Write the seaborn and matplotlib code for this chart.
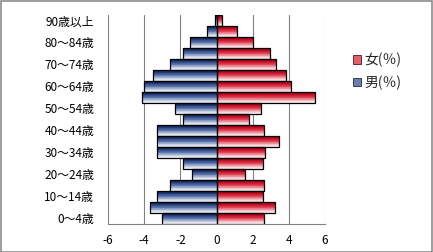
import numpy as np
import pandas as pd
import matplotlib
matplotlib.use("Agg")
import matplotlib.pyplot as plt
from matplotlib.colors import LinearSegmentedColormap
from matplotlib.patches import Rectangle, Patch
import seaborn as sns

# ---- data (top to bottom) ----
age_groups = ["90歳以上", "85～89歳", "80～84歳", "75～79歳", "70～74歳", "65～69歳",
              "60～64歳", "55～59歳", "50～54歳", "45～49歳", "40～44歳", "35～39歳",
              "30～34歳", "25～29歳", "20～24歳", "15～19歳", "10～14歳", "5～9歳", "0～4歳"]
female_pct = [0.33, 1.11, 2.0, 2.96, 3.3, 3.85, 4.11, 5.46, 2.44, 1.82, 2.6, 3.44,
              2.67, 2.56, 1.56, 2.61, 2.56, 3.22, 2.61]
male_pct = [-0.1, -0.55, -1.44, -1.85, -2.55, -3.5, -4.0, -4.12, -2.29, -1.88, -3.28, -3.28,
            -3.28, -1.88, -1.33, -2.55, -3.28, -3.67, -3.04]
series_names = ["女(％)", "男(％)"]
x_ticks = [-6, -4, -2, 0, 2, 4, 6]

sns.set_theme(style="white")
plt.rcParams["font.family"] = ["Noto Sans CJK JP", "DejaVu Sans"]

df = pd.DataFrame({
    "age": age_groups * 2,
    "value": female_pct + male_pct,
    "sex": [series_names[0]] * len(age_groups) + [series_names[1]] * len(age_groups),
})

fig = plt.figure(figsize=(4.33, 2.52), dpi=100)
ax = fig.add_axes([108 / 433, 1 - 224 / 252, 217 / 433, 209 / 252])

palette = {series_names[0]: "#d42a3c", series_names[1]: "#344f86"}
sns.barplot(data=df, x="value", y="age", hue="sex", order=age_groups,
            hue_order=series_names, palette=palette, dodge=False, orient="h",
            saturation=1, width=0.92, edgecolor="black", linewidth=0.9,
            legend=False, ax=ax, zorder=3)

ax.set_xlim(-6, 6)
ax.set_ylim(len(age_groups) - 0.5, -0.5)
ax.set_xticks(x_ticks)
ax.set_xticklabels([str(t) for t in x_ticks])
ax.set_yticks(range(len(age_groups)))
ax.set_yticklabels([lab if i % 2 == 0 else "" for i, lab in enumerate(age_groups)])
ax.tick_params(axis="y", length=0, pad=10, labelsize=8.5, colors="black")
ax.tick_params(axis="x", length=4, width=0.8, color="#808080", direction="out",
               pad=3, labelsize=8.5, colors="black")
ax.set_xlabel("")
ax.set_ylabel("")
for s in ["top", "right", "left"]:
    ax.spines[s].set_visible(False)
ax.spines["bottom"].set_color("#808080")
ax.spines["bottom"].set_linewidth(0.8)
for t in x_ticks:
    ax.axvline(t, color="#808080" if t != 0 else "#404040", lw=0.8, zorder=1)

# gradient fill for bars (dark at top, light at bottom) as thin stripes
cmap_f = LinearSegmentedColormap.from_list("r", ["#a80014", "#d42036", "#ec8894", "#fdeef0"])
cmap_m = LinearSegmentedColormap.from_list("b", ["#0e2458", "#3c5794", "#97a8cc", "#eef1f7"])
n_str = 14
for p in list(ax.patches):
    x0, y0 = p.get_x(), p.get_y()
    w, h = p.get_width(), p.get_height()
    if w == 0 or np.isnan(w):
        continue
    cmap = cmap_f if w > 0 else cmap_m
    ytop = min(y0, y0 + h)
    hh = abs(h)
    for k in range(n_str):
        c = cmap(k / (n_str - 1))
        r = Rectangle((x0, ytop + hh * k / n_str), w, hh / n_str * 1.05,
                      facecolor=c, edgecolor="none", linewidth=0,
                      antialiased=False, zorder=3.5)
        ax.add_patch(r)
    p.set_facecolor("none")
    p.set_zorder(4)

ax.set_xlim(-6, 6)
ax.set_ylim(len(age_groups) - 0.5, -0.5)

handles = [Patch(facecolor="#e06070", edgecolor="#5a1020", linewidth=0.6, label=series_names[0]),
           Patch(facecolor="#6a7fae", edgecolor="#1c2c50", linewidth=0.6, label=series_names[1])]
fig.legend(handles=handles, loc="upper left", bbox_to_anchor=(340 / 433, 1 - 40 / 252),
           frameon=False, fontsize=10, handlelength=0.6, handleheight=0.6,
           handletextpad=0.25, labelspacing=0.6)

fig.patches.append(Rectangle((0.5 / 433, 0.5 / 252), 431.5 / 433, 250.5 / 252,
                             transform=fig.transFigure, fill=False,
                             edgecolor="#8c8c8c", linewidth=1.2))

fig.savefig("out.png", dpi=100)
